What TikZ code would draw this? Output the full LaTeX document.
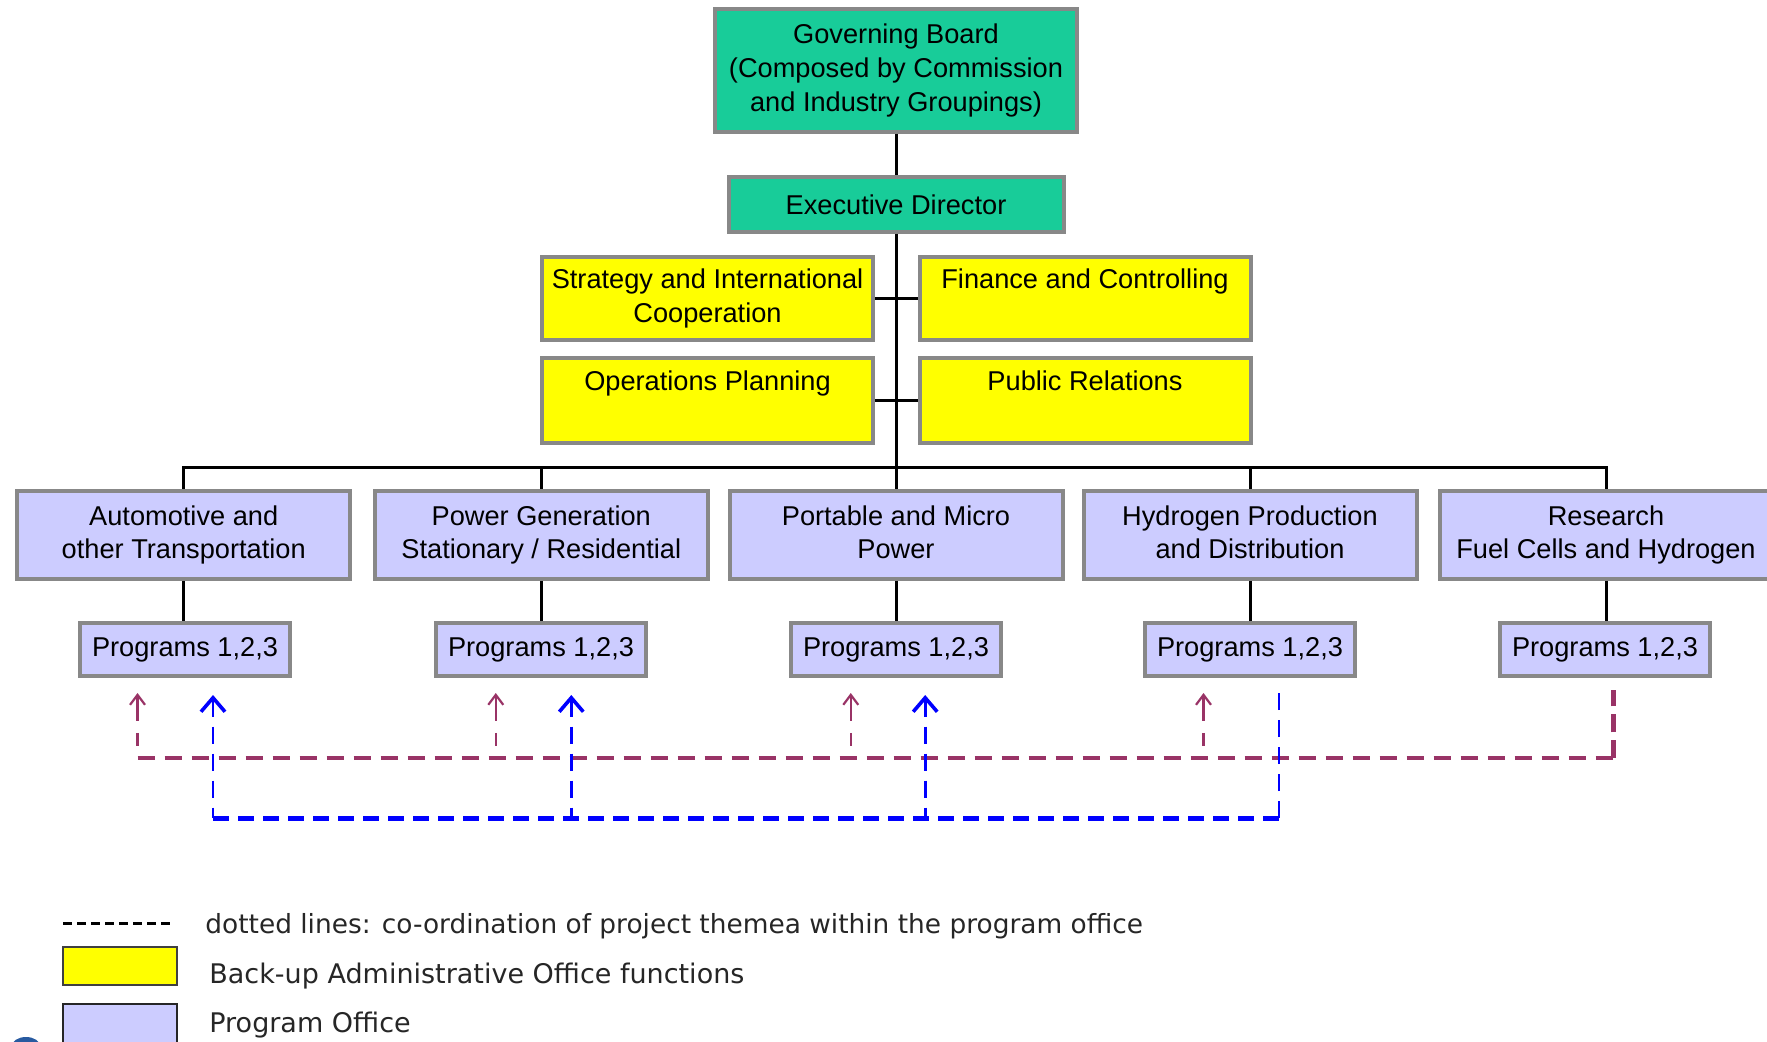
\documentclass[tikz,border=0pt]{standalone}
\usepackage{fontspec}
\setmainfont{Liberation Sans}
\newfontfamily\legendfont{DejaVu Sans}
\usetikzlibrary{arrows.meta}
\definecolor{boardgreen}{RGB}{24,204,153}
\definecolor{boxgray}{RGB}{136,136,136}
\definecolor{admyellow}{RGB}{255,255,0}
\definecolor{proglav}{RGB}{204,204,255}
\definecolor{coordred}{RGB}{153,51,102}
\definecolor{coordblue}{RGB}{0,0,255}
\definecolor{logoblue}{RGB}{40,90,160}
\begin{document}
\begin{tikzpicture}[x=0.5pt,y=-0.5pt,
  every node/.style={font=\fontsize{13.6pt}{16.9pt}\selectfont, inner sep=0pt},
  orgbox/.style={draw=boxgray, line width=2pt, align=center},
  greenbox/.style={orgbox, fill=boardgreen},
  yellowbox/.style={orgbox, fill=admyellow, minimum width=165.5pt},
  progbox/.style={orgbox, fill=proglav, minimum width=166.5pt, minimum height=44pt},
  smallbox/.style={orgbox, fill=proglav, minimum width=105pt, minimum height=26.5pt},
  conn/.style={draw=black, line width=1.5pt},
  redh/.style={draw=coordred, line width=2pt, dash pattern=on 8.5pt off 5pt},
  redv/.style={draw=coordred, line width=1.1pt, dash pattern=on 12.5pt off 6pt on 6.5pt off 8pt},
  redarrow/.style={redv, {Straight Barb[length=5pt,width=7.5pt,line width=1.1pt]}-},
  bluehl/.style={draw=coordblue, line width=2.5pt, dash pattern=on 8pt off 4.5pt},
  bluev/.style={draw=coordblue, line width=1.4pt, dash pattern=on 8.5pt off 5pt},
  bluearrow/.style={bluev, {Straight Barb[length=7pt,width=12pt,line width=1.8pt]}-},
  legendtext/.style={font=\legendfont\fontsize{13.5pt}{16pt}\selectfont, anchor=west, text=black!85}
]
\useasboundingbox (0,0) rectangle (1767,1042);

% top of hierarchy
\node[greenbox, minimum width=181pt, minimum height=61.5pt] (gb) at (896,70.5)
  {Governing Board\\(Composed by Commission\\and Industry Groupings)};
\node[greenbox, minimum width=167.5pt, minimum height=27.5pt] (ed) at (896,204.5)
  {Executive Director};

% administrative functions
\node[yellowbox, minimum height=41.5pt] (strat) at (707.5,298.5)
  {Strategy and International\\Cooperation};
\node[yellowbox, minimum height=41.5pt] (fin) at (1085,298.5)
  {Finance and Controlling\\\vphantom{Cp}};
\node[yellowbox, minimum height=42.5pt] (ops) at (707.5,400.5)
  {Operations Planning\\\vphantom{Cp}};
\node[yellowbox, minimum height=42.5pt] (pr) at (1085,400.5)
  {Public Relations\\\vphantom{Cp}};

% program office boxes
\node[progbox] (auto) at (183.7,535) {Automotive and\\other Transportation};
\node[progbox] (power) at (541.3,535) {Power Generation\\Stationary / Residential};
\node[progbox] (port) at (896,535) {Portable and Micro\\Power\vphantom{p}};
\node[progbox] (hyd) at (1250,535) {Hydrogen Production\\and Distribution\vphantom{p}};
\node[progbox] (res) at (1606,535) {Research\\Fuel Cells and Hydrogen};

\node[smallbox] (p1) at (185,649.5) {Programs 1,2,3};
\node[smallbox] (p2) at (541,649.5) {Programs 1,2,3};
\node[smallbox] (p3) at (896,649.5) {Programs 1,2,3};
\node[smallbox] (p4) at (1250,649.5) {Programs 1,2,3};
\node[smallbox] (p5) at (1605,649.5) {Programs 1,2,3};

% solid connectors
\draw[conn] (gb) -- (ed);
\draw[conn] (ed.south) -- (port.north);
\draw[conn] (strat) -- (fin);
\draw[conn] (ops) -- (pr);
\coordinate (bus) at (896,467.7);
\draw[conn] (auto.north) |- (bus) -| (res.north);
\draw[conn] (bus) -| (power.north);
\draw[conn] (bus) -| (hyd.north);
\draw[conn] (auto.south) -- (auto.south |- p1.north);
\draw[conn] (power.south) -- (power.south |- p2.north);
\draw[conn] (port.south) -- (port.south |- p3.north);
\draw[conn] (hyd.south) -- (hyd.south |- p4.north);
\draw[conn] (res.south) -- (res.south |- p5.north);

% red coordination lines
\coordinate (rt1) at (137.5,693);
\coordinate (rt2) at (495.8,693);
\coordinate (rt3) at (850.8,693);
\coordinate (rt4) at (1203.5,693);
\coordinate (rb1) at (137.5,758.4);
\coordinate (rb2) at (495.8,758.4);
\coordinate (rb3) at (850.8,758.4);
\coordinate (rb4) at (1203.5,758.4);
\coordinate (rend) at (1613.7,758.4);
\coordinate (rtop) at (1613.7,690);
\draw[redh] (rb1) -- (rend);
\draw[draw=coordred, line width=2.5pt, dash pattern=on 9pt off 4pt] (rend) -- (rtop);
\draw[redarrow] (rt1) -- (rb1);
\draw[redarrow] (rt2) -- (rb2);
\draw[redarrow] (rt3) -- (rb3);
\draw[redarrow] (rt4) -- (rb4);

% blue coordination lines
\coordinate (bt1) at (213,695);
\coordinate (bt2) at (571.3,695);
\coordinate (bt3) at (925.2,695);
\coordinate (bb1) at (213,818);
\coordinate (bb2) at (571.3,818);
\coordinate (bb3) at (925.2,818);
\coordinate (bend) at (1279,818);
\coordinate (btop) at (1279,690);
\draw[bluehl] (bb1) -- (bend);
\draw[bluev] (bend) -- (btop);
\draw[bluearrow] (bt1) -- (bb1);
\draw[bluearrow] (bt2) -- (bb2);
\draw[bluearrow] (bt3) -- (bb3);

% legend
\coordinate (lga) at (63,923);
\coordinate (lgb) at (173,923);
\draw[black, line width=1.5pt, dash pattern=on 4.5pt off 2.5pt] (lga) -- (lgb);
\node[legendtext, font=\legendfont\fontsize{13.2pt}{16pt}\selectfont] (lt1) at (205,926)
  {dotted lines: co-ordination of project themea within the program office};
\node[draw=black!75, line width=1.2pt, fill=admyellow, minimum width=57pt, minimum height=19pt] (ly) at (120,966) {};
\node[legendtext] (lt2) at (209,976) {Back-up Administrative Office functions};
\node[draw=black!85, line width=1.2pt, fill=proglav, minimum width=57pt, minimum height=20pt] (lp) at (120,1024) {};
\node[legendtext] (lt3) at (209,1025) {Program Office};

% partial logo at the corner
\fill[logoblue] (26,1046) ellipse (14 and 9);
\end{tikzpicture}
\end{document}
